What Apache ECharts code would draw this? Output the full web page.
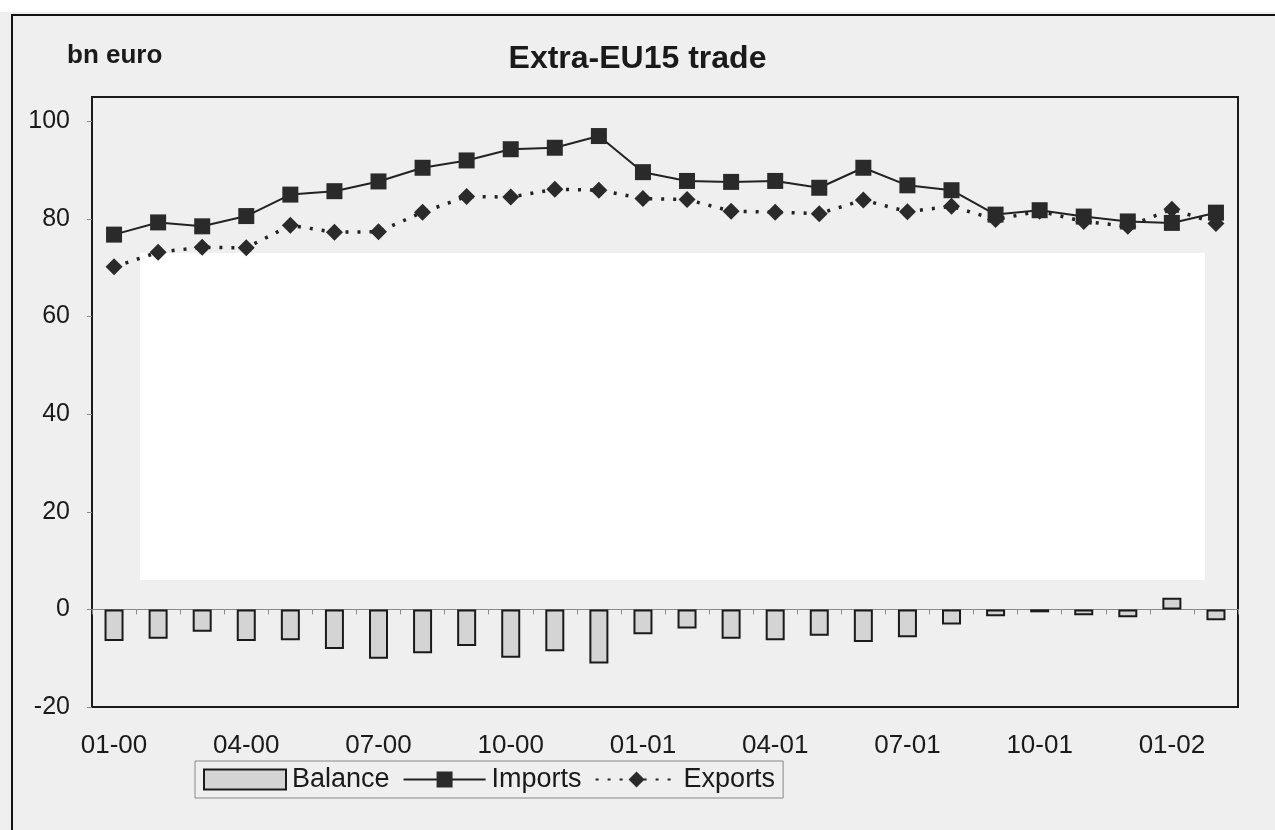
<!DOCTYPE html>
<html>
<head>
<meta charset="utf-8">
<script src="https://cdn.jsdelivr.net/npm/echarts@6/dist/echarts.min.js"></script>
<style>
html,body{margin:0;padding:0;background:#efefef;}
#chart{width:1275px;height:830px;}
</style>
</head>
<body>
<div id="chart"></div>
<script>
const months = ['01-00','02-00','03-00','04-00','05-00','06-00','07-00','08-00','09-00','10-00','11-00','12-00',
  '01-01','02-01','03-01','04-01','05-01','06-01','07-01','08-01','09-01','10-01','11-01','12-01','01-02','02-02'];
const balance = [-6.5,-6.0,-4.6,-6.5,-6.3,-8.1,-10.1,-9.0,-7.5,-9.9,-8.6,-11.1,-5.1,-3.9,-6.0,-6.3,-5.4,-6.7,-5.7,-3.1,-1.4,-0.6,-1.2,-1.6,2.4,-2.2];
const imports = [76.8,79.3,78.5,80.6,85.0,85.7,87.7,90.5,92.0,94.3,94.6,97.0,89.6,87.8,87.6,87.8,86.4,90.5,86.9,85.9,80.9,81.8,80.5,79.5,79.2,81.3];
const exportsV = [70.2,73.2,74.2,74.1,78.7,77.3,77.4,81.4,84.6,84.5,86.1,85.9,84.2,84.0,81.6,81.4,81.1,83.9,81.5,82.6,79.9,81.6,79.5,78.5,82.0,79.1];
const yTicks = {min:-20, max:105, interval:20};

const font = '"Liberation Sans", Arial, sans-serif';
const chart = echarts.init(document.getElementById('chart'));
chart.setOption({
  animation:false,
  backgroundColor:'#efefef',
  textStyle:{fontFamily:font},
  graphic:[
    {type:'rect', z:-10, shape:{x:0,y:0,width:1275,height:12}, style:{fill:'#ffffff'}},
    {type:'rect', z:-5, shape:{x:12,y:15,width:1300,height:900}, style:{fill:'none',stroke:'#111',lineWidth:2}},
    {type:'rect', z:-5, shape:{x:140,y:253,width:1065,height:327}, style:{fill:'#ffffff'}},
    {type:'text', left:67, top:43, style:{text:'bn euro', font:'bold 26px '+font, fill:'#1a1a1a'}}
  ],
  title:{
    text:'Extra-EU15 trade', left:'center', top:38,
    textStyle:{fontSize:32,fontWeight:'bold',color:'#1a1a1a',fontFamily:font}
  },
  legend:{
    left:195, top:761,
    itemWidth:82, itemHeight:20, itemGap:13,
    padding:[5,8,5,8],
    borderColor:'#888', borderWidth:1, backgroundColor:'#efefef',
    textStyle:{fontSize:27,color:'#1a1a1a',fontFamily:font, padding:[0,0,0,1]},
    data:[{name:'Balance', icon:'rect'},'Imports','Exports']
  },
  grid:{left:92,right:37,top:97,bottom:123,show:true,borderColor:'#1a1a1a',borderWidth:2,backgroundColor:'transparent'},
  xAxis:[
    {type:'category', data:months, position:'bottom',
     axisLine:{onZero:false, show:false},
     axisTick:{show:false},
     axisLabel:{interval:2, fontSize:26, color:'#1a1a1a', margin:26, fontFamily:font}},
    {type:'category', data:months, position:'bottom',
     axisLine:{onZero:true, lineStyle:{color:'#8a8a8a',width:1}},
     axisTick:{show:true, length:5, interval:0, lineStyle:{color:'#8a8a8a'}},
     axisLabel:{show:false}}
  ],
  yAxis:{
    type:'value', min:yTicks.min, max:yTicks.max, interval:yTicks.interval,
    axisLine:{show:false},
    axisTick:{show:true, length:5, lineStyle:{color:'#8a8a8a'}},
    splitLine:{show:false},
    axisLabel:{fontSize:25, color:'#1a1a1a', margin:22, showMaxLabel:false, fontFamily:font}
  },
  series:[
    {name:'Balance', type:'bar', data:balance, barWidth:19, xAxisIndex:0,
     itemStyle:{color:'#d4d4d4', borderColor:'#1a1a1a', borderWidth:2}},
    {name:'Imports', type:'line', data:imports, xAxisIndex:0,
     symbol:'rect', symbolSize:16,
     lineStyle:{color:'#222',width:2},
     itemStyle:{color:'#2a2a2a'}},
    {name:'Exports', type:'line', data:exportsV, xAxisIndex:0,
     symbol:'diamond', symbolSize:17,
     lineStyle:{color:'#222',width:3.5,type:[3,9]},
     itemStyle:{color:'#2a2a2a'}}
  ]
});
</script>
</body>
</html>
